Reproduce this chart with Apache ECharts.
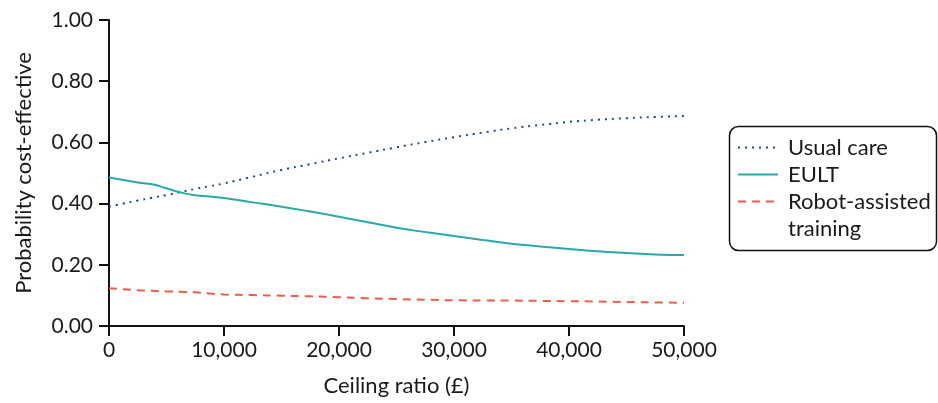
<!DOCTYPE html>
<html><head><meta charset="utf-8">
<script src="https://cdn.jsdelivr.net/npm/echarts@6/dist/echarts.min.js"></script>
<style>html,body{margin:0;padding:0;background:#fff}#c{width:938px;height:403px}</style>
</head><body><div id="c"></div>
<script>
const ceilingRatios = [0,1250,2500,3750,5000,6250,7500,8750,10000,12500,15000,17500,20000,22500,25000,27500,30000,32500,35000,37500,40000,42500,45000,47500,50000];
const usualCare = [0.390,0.400,0.410,0.419,0.428,0.438,0.448,0.457,0.466,0.488,0.510,0.529,0.548,0.566,0.584,0.601,0.617,0.632,0.646,0.657,0.667,0.674,0.679,0.683,0.686];
const eult = [0.485,0.477,0.469,0.463,0.450,0.436,0.427,0.423,0.418,0.404,0.390,0.374,0.357,0.339,0.321,0.307,0.294,0.281,0.269,0.260,0.252,0.244,0.2385,0.234,0.232];
const robot = [0.123,0.120,0.117,0.115,0.113,0.112,0.110,0.106,0.103,0.101,0.099,0.097,0.094,0.091,0.088,0.086,0.084,0.083,0.083,0.082,0.081,0.080,0.0785,0.077,0.076];
const seriesNames = ['Usual care','EULT','Robot-assisted\ntraining'];
const yTicks = [0,0.2,0.4,0.6,0.8,1.0];

const font = 'Lato, "Open Sans", sans-serif';
const pairs = v => ceilingRatios.map((x,i)=>[x,v[i]]);
const chart = echarts.init(document.getElementById('c'));
chart.setOption({
  animation:false,
  textStyle:{fontFamily:font},
  grid:{left:109,right:254,top:20,bottom:77,outerBoundsMode:'none',containLabel:false},
  graphic:[{type:'rect',left:727,top:124,z:0,silent:true,
    shape:{width:207,height:124,r:9},
    style:{fill:'none',stroke:'#111',lineWidth:1.5}}],
  xAxis:{type:'value',min:0,max:50000,interval:10000,
    name:'Ceiling ratio (£)',nameLocation:'middle',nameGap:49,
    nameTextStyle:{fontSize:22,color:'#1a1a1a',fontFamily:font},
    axisLine:{lineStyle:{color:'#111',width:2}},
    axisTick:{show:true,length:10,lineStyle:{color:'#111',width:2}},
    axisLabel:{fontSize:21,color:'#1a1a1a',margin:14,fontFamily:font,
      formatter:v=>v.toLocaleString('en-GB')},
    splitLine:{show:false}},
  yAxis:{type:'value',min:yTicks[0],max:yTicks[yTicks.length-1],interval:0.2,
    name:'Probability cost-effective',nameLocation:'middle',nameGap:74,
    nameTextStyle:{fontSize:22,color:'#1a1a1a',fontFamily:font},
    axisLine:{show:true,lineStyle:{color:'#111',width:2}},
    axisTick:{show:true,length:10,lineStyle:{color:'#111',width:2}},
    axisLabel:{fontSize:21,color:'#1a1a1a',margin:16,fontFamily:font,formatter:v=>v.toFixed(2)},
    splitLine:{show:false}},
  legend:{orient:'vertical',left:737,top:107,
    borderWidth:0,padding:0,itemGap:-54,itemWidth:40,itemHeight:14,
    itemStyle:{opacity:0},
    formatter:name=>name.indexOf('\n')>=0 ? '\n'+name : '\n'+name+'\n',
    textStyle:{fontSize:22,color:'#1a1a1a',fontFamily:font,lineHeight:27,padding:[0,0,0,5]},
    data:seriesNames},
  series:[
    {name:seriesNames[0],type:'line',data:pairs(usualCare),smooth:true,symbol:'none',
      lineStyle:{color:'#2c4a7e',width:2,type:[2,5]},itemStyle:{color:'#2c4a7e'}},
    {name:seriesNames[1],type:'line',data:pairs(eult),smooth:true,symbol:'none',
      lineStyle:{color:'#2aa8aa',width:2,type:'solid'},itemStyle:{color:'#2aa8aa'}},
    {name:seriesNames[2],type:'line',data:pairs(robot),smooth:true,symbol:'none',
      lineStyle:{color:'#e8604c',width:2,type:[8,6]},itemStyle:{color:'#e8604c'}}
  ]
});
</script></body></html>
